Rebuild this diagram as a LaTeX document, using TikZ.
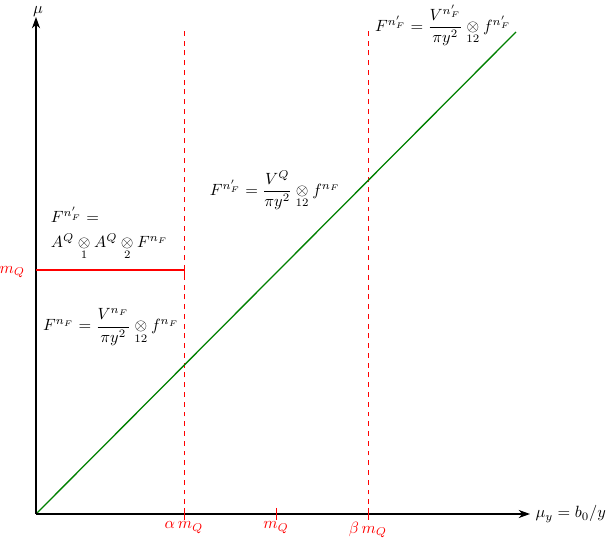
\documentclass[tikz,border=0pt]{standalone}
\usepackage{amsmath}
\usetikzlibrary{arrows.meta}
\begin{document}
\begin{tikzpicture}[x=0.0216cm,y=-0.0216cm,
  axis/.style={thick,-{Stealth[length=7pt,width=5pt]}},
  redline/.style={red,thick},
  reddash/.style={red,dashed,thin},
  tickmark/.style={red,semithick},
  redlabel/.style={red,anchor=north,inner sep=1pt},
  formula/.style={inner sep=1pt}]
\useasboundingbox (0,0) rectangle (611,540);
\coordinate (O) at (36,514);
\coordinate (ytip) at (36,17);
\coordinate (xtip) at (530,514);
\coordinate (gend) at (516,32);
\coordinate (a0) at (184,514);
\coordinate (a1) at (184,31);
\coordinate (b0) at (368,514);
\coordinate (b1) at (368,31);
\coordinate (mt0) at (276,508);
\coordinate (mt1) at (276,520);
\coordinate (at0) at (184,508);
\coordinate (at1) at (184,520);
\coordinate (bt0) at (368,508);
\coordinate (bt1) at (368,520);
\coordinate (h0) at (36,270);
\coordinate (h1) at (184,270);
\coordinate (ht0) at (184,265);
\coordinate (ht1) at (184,275);
% dashed lines
\draw[reddash] (a0) -- (a1);
\draw[reddash] (b0) -- (b1);
% green line
\draw[green!50!black,thick] (O) -- (gend);
% axes
\draw[axis] (O) -- (ytip);
\draw[axis] (O) -- (xtip);
\node[anchor=south,inner sep=0pt] (mu) at (38,17) {$\mu$};
\node[anchor=west,inner sep=2pt] (muy) at (532,514) {$\mu_y = b_0/y$};
% ticks
\draw[tickmark] (at0) -- (at1);
\draw[tickmark] (bt0) -- (bt1);
\draw[tickmark] (mt0) -- (mt1);
\node[redlabel] (la) at (184,520) {$\alpha\, m_Q$};
\node[redlabel] (lm) at (276,520) {$m_Q$};
\node[redlabel] (lb) at (368,520) {$\beta\, m_Q$};
% horizontal
\draw[redline] (h0) -- (h1);
\draw[tickmark] (ht0) -- (ht1);
\node[red,anchor=east,inner sep=1pt] (lmq) at (27,272) {$m_Q$};
% formulas
\node[formula,anchor=west] (f1a) at (49,215) {$F^{n'_F} =$};
\node[formula,anchor=west] (f1b) at (49,247) {$A^Q \underset{1}{\otimes} A^Q \underset{2}{\otimes} F^{n_F}$};
\node[formula] (f2) at (111,327) {$F^{n_F} = \dfrac{V^{n_F}}{\pi y^2} \underset{12}{\otimes} f^{n_F}$};
\node[formula] (f3) at (275,190) {$F^{n'_F} = \dfrac{V^{Q}}{\pi y^2} \underset{12}{\otimes} f^{n_F}$};
\node[formula] (f4) at (443,25) {$F^{n'_F} = \dfrac{V^{n'_F}}{\pi y^2} \underset{12}{\otimes} f^{n'_F}$};
\end{tikzpicture}
\end{document}
